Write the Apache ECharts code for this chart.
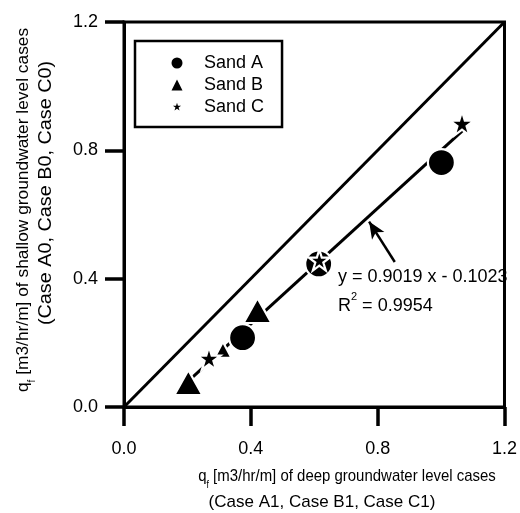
<!DOCTYPE html>
<html>
<head>
<meta charset="utf-8">
<script src="https://cdn.jsdelivr.net/npm/echarts@6/dist/echarts.min.js"></script>
<style>
html,body{margin:0;padding:0;background:#fff;}
#chart{width:520px;height:513px;}
</style>
</head>
<body>
<div id="chart"></div>
<script>
// ---- data ----
const sandAX = [1.001, 0.614, 0.374];
const sandAY = [0.762, 0.446, 0.216];
const sandBX = [0.203, 0.312, 0.421];
const sandBY = [0.076, 0.178, 0.301];
const sandCX = [1.066, 0.616, 0.268];
const sandCY = [0.884, 0.458, 0.152];
const fitX = [0.20, 1.069];
const fitY = [0.078, 0.862];
const diagX = [0.0, 1.2];
const diagY = [0.0, 1.2];
const arrowX = [0.854, 0.773];
const arrowY = [0.452, 0.578];
const seriesNames = ['Sand A', 'Sand B', 'Sand C'];
const equationLines = ['y = 0.9019 x - 0.1023', 'R', '2', ' = 0.9954'];
const xTitle = ['q', 'f', ' [m3/hr/m] of deep groundwater level cases', '(Case A1, Case B1, Case C1)'];
const yTitle = ['q', 'f', ' [m3/hr/m] of shallow groundwater level cases', '(Case A0, Case B0, Case C0)'];

// ---- styles (kept apart from data) ----
const sizesA = [27, 27, 27];
const sizesB = [[28, 25], [17, 16], [28, 25]];
const sizesC = [24, 21, 23];
const FONT = "'Liberation Sans', Arial, Helvetica, sans-serif";
const STAR = 'path://M50 0 L61.17 34.63 L97.55 34.55 L68.07 55.87 L79.39 90.45 L50 69 L20.61 90.45 L31.93 55.87 L2.45 34.55 L38.83 34.63 Z';
const STAR_LEGEND = 'path://M-14 -14 M114 114 M50 0 L61.17 34.63 L97.55 34.55 L68.07 55.87 L79.39 90.45 L50 69 L20.61 90.45 L31.93 55.87 L2.45 34.55 L38.83 34.63 Z';

function pts(xs, ys, sizes) {
  return xs.map((x, i) => ({ value: [x, ys[i]], symbolSize: sizes[i] }));
}

const chart = echarts.init(document.getElementById('chart'), null, { renderer: 'canvas' });

const markerStyle = { color: '#000', borderColor: '#fff', borderWidth: 2.2, opacity: 1 };
const axisCommon = {
  type: 'value', min: 0, max: 1.2, interval: 0.4,
  axisLine: { show: true, lineStyle: { color: '#000', width: 3 } },
  axisTick: { show: true, inside: false, length: 19, lineStyle: { color: '#000', width: 3.5 } },
  splitLine: { show: false },
  axisLabel: { color: '#000', fontSize: 18, fontFamily: FONT, formatter: v => v.toFixed(1) }
};

function titleRich(size, sub) {
  return {
    a: { fontSize: size, fontFamily: FONT, lineHeight: 22, verticalAlign: 'top', fill: '#000' },
    s: { fontSize: sub, fontFamily: FONT, lineHeight: 22, verticalAlign: 'bottom', fill: '#000' }
  };
}

const option = {
  animation: false,
  backgroundColor: '#fff',
  grid: { left: 124, right: 11, top: 22, bottom: 106, show: true, borderColor: '#000', borderWidth: 3 },
  xAxis: Object.assign({}, axisCommon, { axisLabel: Object.assign({}, axisCommon.axisLabel, { margin: 33 }) }),
  yAxis: Object.assign({}, axisCommon, { axisLabel: Object.assign({}, axisCommon.axisLabel, { margin: 26 }) }),
  legend: {
    show: true,
    orient: 'vertical',
    left: 135, top: 41,
    itemWidth: 11, itemHeight: 11, itemGap: 4,
    padding: [13, 18, 11, 36.5],
    borderColor: '#000', borderWidth: 2.5,
    backgroundColor: '#fff',
    symbolKeepAspect: true,
    textStyle: { color: '#000', fontSize: 18, fontFamily: FONT, lineHeight: 18, padding: [0, 0, 0, 16.5] },
    selectedMode: false,
    data: [
      { name: seriesNames[0], icon: 'circle', itemStyle: { color: '#000', borderWidth: 0, opacity: 1 } },
      { name: seriesNames[1], icon: 'triangle', itemStyle: { color: '#000', borderWidth: 0, opacity: 1 } },
      { name: seriesNames[2], icon: STAR_LEGEND, itemStyle: { color: '#000', borderWidth: 0, opacity: 1 } }
    ]
  },
  series: [
    {
      name: 'diag', type: 'line', z: 1, silent: true, symbol: 'none',
      data: diagX.map((x, i) => [x, diagY[i]]),
      lineStyle: { color: '#000', width: 3 }
    },
    {
      name: 'fit', type: 'line', z: 1, silent: true, symbol: 'none',
      data: fitX.map((x, i) => [x, fitY[i]]),
      lineStyle: { color: '#000', width: 3 },
      markLine: {
        silent: true, symbol: ['none', 'arrow'], symbolSize: [11, 17],
        label: { show: false },
        lineStyle: { color: '#000', width: 2.5, type: 'solid' },
        data: [[{ coord: [arrowX[0], arrowY[0]] }, { coord: [arrowX[1], arrowY[1]] }]]
      }
    },
    {
      name: seriesNames[0], type: 'scatter', z: 3, symbol: 'circle',
      data: pts(sandAX, sandAY, sizesA), itemStyle: markerStyle
    },
    {
      name: seriesNames[1], type: 'scatter', z: 4, symbol: 'triangle',
      data: pts(sandBX, sandBY, sizesB), itemStyle: markerStyle
    },
    {
      name: seriesNames[2], type: 'scatter', z: 5, symbol: STAR,
      data: pts(sandCX, sandCY, sizesC), itemStyle: markerStyle
    }
  ],
  graphic: [
    {
      type: 'text', left: 338, top: 268, z: 10,
      style: { text: equationLines[0], fill: '#000', font: '18px ' + FONT }
    },
    {
      type: 'text', left: 338, top: 291, z: 10,
      style: {
        text: '{a|' + equationLines[1] + '}{s|' + equationLines[2] + '}{a|' + equationLines[3] + '}',
        fill: '#000',
        rich: {
          a: { fontSize: 18, fontFamily: FONT, lineHeight: 24, verticalAlign: 'bottom', fill: '#000' },
          s: { fontSize: 11, fontFamily: FONT, lineHeight: 24, verticalAlign: 'top', fill: '#000' }
        }
      }
    },
    {
      type: 'text', x: 347, y: 479, z: 10, scaleX: 0.88,
      style: {
        text: '{a|' + xTitle[0] + '}{s|' + xTitle[1] + '}{a|' + xTitle[2] + '}',
        align: 'center', verticalAlign: 'middle', fill: '#000',
        rich: titleRich(17, 10)
      }
    },
    {
      type: 'text', x: 322, y: 502, z: 10,
      style: { text: xTitle[3], align: 'center', verticalAlign: 'middle', fill: '#000', font: '17px ' + FONT }
    },
    {
      type: 'text', x: 26, y: 210, rotation: Math.PI / 2, z: 10, scaleX: 1.02,
      style: {
        text: '{a|' + yTitle[0] + '}{s|' + yTitle[1] + '}{a|' + yTitle[2] + '}',
        align: 'center', verticalAlign: 'middle', fill: '#000',
        rich: titleRich(17, 10)
      }
    },
    {
      type: 'text', x: 46, y: 193, rotation: Math.PI / 2, z: 10, scaleX: 1.1,
      style: { text: yTitle[3], align: 'center', verticalAlign: 'middle', fill: '#000', font: '18px ' + FONT }
    }
  ]
};

chart.setOption(option);
</script>
</body>
</html>
